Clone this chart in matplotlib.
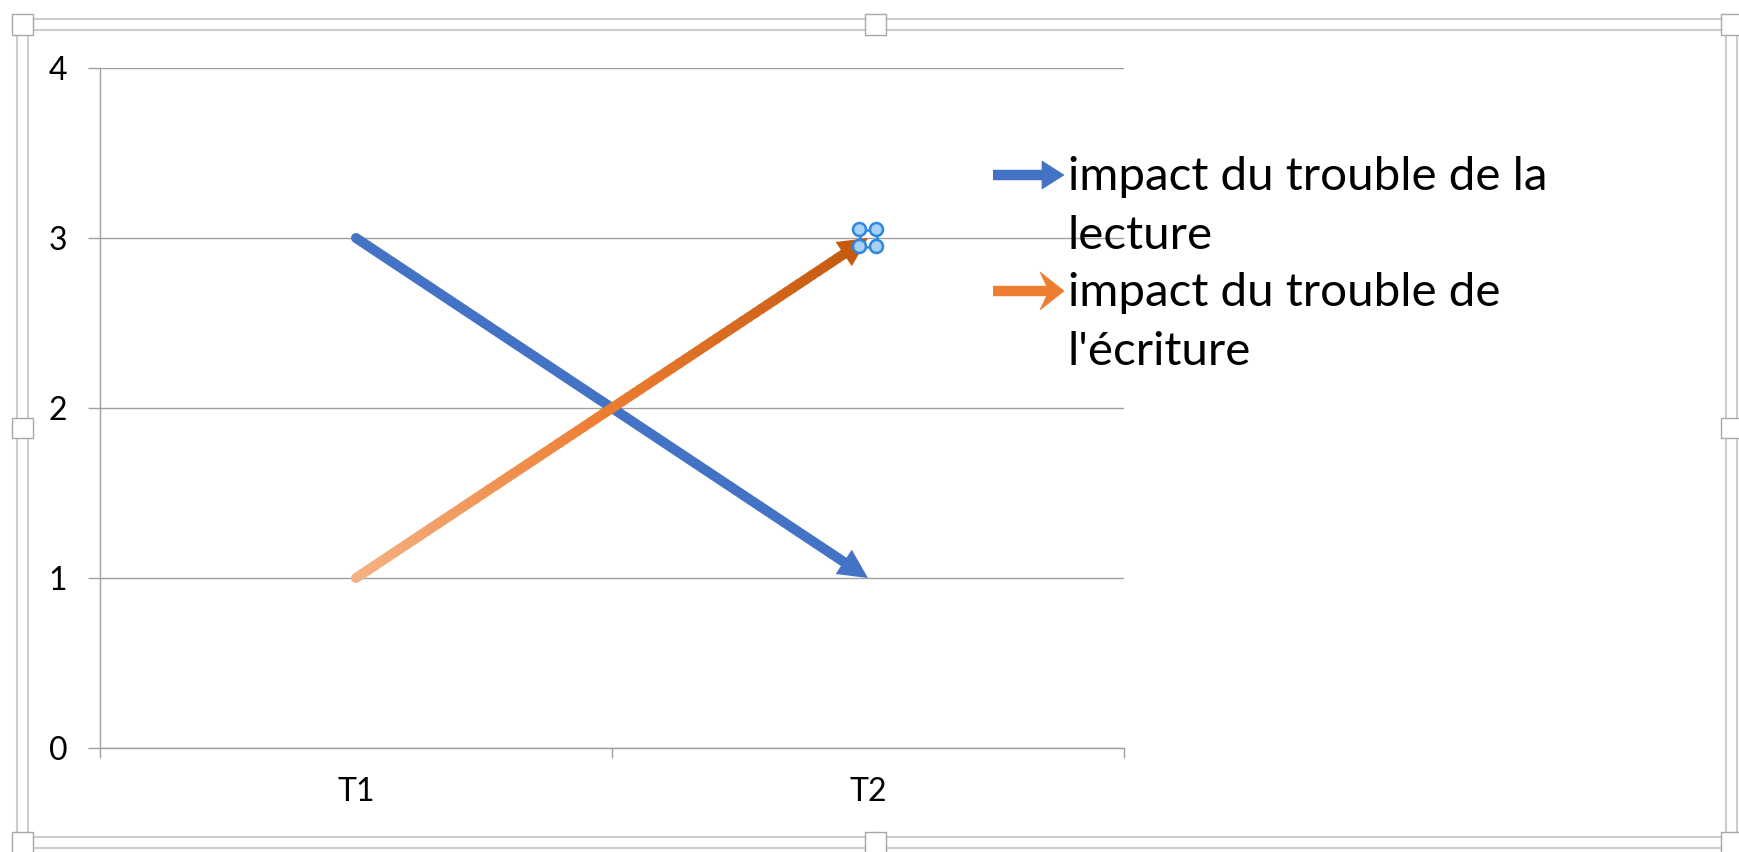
import numpy as np
import matplotlib
matplotlib.use('Agg')
import matplotlib.pyplot as plt
from matplotlib.collections import LineCollection
from matplotlib.colors import LinearSegmentedColormap
from matplotlib.patches import Rectangle, Polygon, Circle
from matplotlib.lines import Line2D
from matplotlib.transforms import IdentityTransform

# data
categories = ['T1', 'T2']
lecture = [3, 1]
ecriture = [1, 3]
legend_labels = ["impact du trouble de la\nlecture", "impact du trouble de\nl'écriture"]
yticks = [0, 1, 2, 3, 4]

W, H = 1740, 852
plt.rcParams['font.family'] = ['Lato', 'DejaVu Sans']

blue = '#4472C4'
orange = '#ED7D31'
dark_orange = '#C55A11'
grid_c = '#A0A0A0'


def fx(x):
    return x / W


def fy(y):
    return 1 - y / H


fig = plt.figure(figsize=(W / 100, H / 100), dpi=100)
fig.patch.set_facecolor('white')

# excel-like selection frame around the chart
frame_c = '#CDCDCD'
for x0, y0, x1, y1 in [(17, 19, 1737, 848), (28, 30, 1726, 837)]:
    fig.add_artist(Rectangle((fx(x0), fy(y1)), fx(x1) - fx(x0), fy(y0) - fy(y1),
                             transform=fig.transFigure, fill=False, ec=frame_c, lw=1.5))
for cx, cy in [(22.5, 24.5), (876, 24.5), (1731.5, 24.5), (22.5, 428), (1731.5, 428),
               (22.5, 842.5), (876, 842.5), (1731.5, 842.5)]:
    fig.add_artist(Rectangle((fx(cx - 10.5), fy(cy + 10.5)), 21 / W, 21 / H,
                             transform=fig.transFigure, fc='white', ec='#A8A8A8', lw=1.0, zorder=5))

ax = fig.add_axes([fx(100), fy(748), (1124 - 100) / W, (748 - 68) / H])
xs = np.arange(len(categories))
ax.set_xlim(-0.5, len(categories) - 0.5)
ax.set_ylim(0, 4)
ax.set_yticks(yticks)
ax.set_xticks(xs)
ax.set_xticklabels(categories)
ax.set_xticks(np.arange(len(categories) + 1) - 0.5, minor=True)
ax.grid(axis='y', color=grid_c, lw=1.0)
ax.set_axisbelow(True)
for s in ['top', 'right']:
    ax.spines[s].set_visible(False)
for s in ['left', 'bottom']:
    ax.spines[s].set_color(grid_c)
    ax.spines[s].set_linewidth(1.0)
ax.tick_params(axis='y', length=8.6, width=1.0, color=grid_c, pad=15, labelsize=23)
ax.tick_params(axis='x', which='major', length=0, pad=21, labelsize=23)
ax.tick_params(axis='x', which='minor', length=7, width=1.0, color=grid_c)

lw = 7.2
head_back = 14  # pixels the line stops before the arrow tip


def line_end(x, y):
    p0 = ax.transData.transform((x[-2], y[-2]))
    p1 = ax.transData.transform((x[-1], y[-1]))
    d = (p1 - p0) / np.hypot(*(p1 - p0))
    return ax.transData.inverted().transform(p1 - d * head_back)


def head(x, y, color):
    ax.annotate('', xy=(x[-1], y[-1]), xytext=(x[-2], y[-2]),
                arrowprops=dict(arrowstyle='-|>,head_length=1.0,head_width=0.5',
                                mutation_scale=21, lw=0, color=color,
                                shrinkA=0, shrinkB=0), zorder=4)


# blue series
e = line_end(xs, lecture)
ax.plot([xs[0], e[0]], [lecture[0], e[1]], color=blue, lw=lw, solid_capstyle='round', zorder=3)
head(xs, lecture, blue)

# orange series with a light -> dark gradient
e = line_end(xs, ecriture)
t = np.linspace(0, 1, 80)
px = xs[0] + (e[0] - xs[0]) * t
py = ecriture[0] + (e[1] - ecriture[0]) * t
pts = np.column_stack([px, py]).reshape(-1, 1, 2)
segs = np.concatenate([pts[:-1], pts[1:]], axis=1)
cmap = LinearSegmentedColormap.from_list('grad', ['#F4B183', '#ED7D31', dark_orange])
lc = LineCollection(segs, cmap=cmap, lw=lw, capstyle='round', zorder=3)
lc.set_array(t[:-1])
ax.add_collection(lc)
head(xs, ecriture, dark_orange)

# small selection handle drawn on the last orange point
c = ax.transData.transform((xs[-1], ecriture[-1]))
off = 8.5
sq = [(-off, -off), (off, -off), (off, off), (-off, off), (-off, -off)]
fig.add_artist(Line2D([c[0] + a for a, b in sq], [c[1] + b for a, b in sq],
                      transform=IdentityTransform(), color='#2E86DE', lw=1.8, zorder=6))
for a, b in sq[:4]:
    fig.add_artist(Circle((c[0] + a, c[1] + b), 6.5, transform=IdentityTransform(),
                          fc='#A9D0F5', ec='#2E86DE', lw=1.8, zorder=7))

# legend drawn by hand
rend = fig.canvas.get_renderer()
probe = fig.text(0, 0, legend_labels[0].split('\n')[0], fontsize=30)
fs = 30 * 478 / probe.get_window_extent(rend).width
probe.remove()

entries = [(blue, 175, 'tri'), (orange, 291, 'open')]
baselines = [[190, 249], [306, 365]]
for (color, ly, kind), label, bl in zip(entries, legend_labels, baselines):
    fig.add_artist(Line2D([fx(993), fx(1050)], [fy(ly), fy(ly)], transform=fig.transFigure,
                          color=color, lw=7.5, solid_capstyle='butt'))
    if kind == 'tri':
        verts = [(1064, ly), (1042, ly - 14), (1042, ly + 14)]
    else:
        verts = [(1064, ly), (1040, ly - 19), (1049, ly), (1040, ly + 19)]
    fig.add_artist(Polygon([(fx(a), fy(b)) for a, b in verts], closed=True,
                           transform=fig.transFigure, fc=color, ec=color, lw=0.5))
    for line, b in zip(label.split('\n'), bl):
        fig.text(fx(1068), fy(b), line, fontsize=fs, va='baseline', ha='left', color='black')

fig.savefig('out.png', dpi=100)
